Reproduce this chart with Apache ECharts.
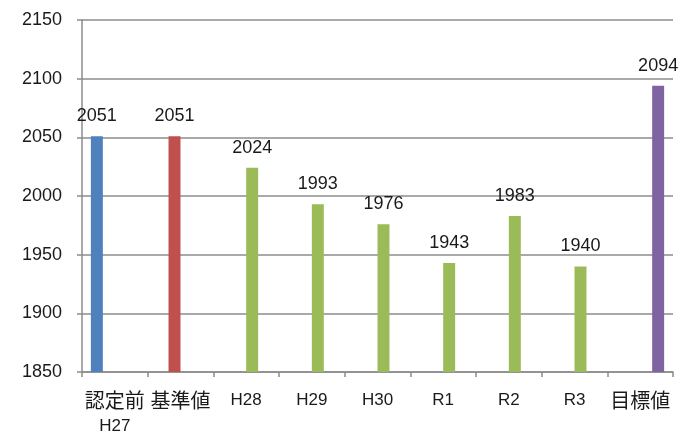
<!DOCTYPE html>
<html>
<head>
<meta charset="utf-8">
<script src="https://cdn.jsdelivr.net/npm/echarts@6/dist/echarts.min.js"></script>
<style>html,body{margin:0;padding:0;background:#fff}#c{width:679px;height:433px}</style>
</head>
<body>
<div id="c"></div>
<script>
const categories = ['認定前\nH27', '基準値', 'H28', 'H29', 'H30', 'R1', 'R2', 'R3', '目標値'];
const values = [2051, 2051, 2024, 1993, 1976, 1943, 1983, 1940, 2094];
const seriesIndexOfCategory = [0, 1, 2, 2, 2, 2, 2, 2, 3];
const seriesColors = ['#4F81BD', '#C0504D', '#9BBB59', '#8064A2'];
const yTicks = { min: 1850, max: 2150, interval: 50 };

const chart = echarts.init(document.getElementById('c'));
const latin = 'Liberation Sans, Arial, sans-serif';
const cjk = 'Noto Sans CJK JP, sans-serif';

const series = seriesColors.map((color, s) => ({
  type: 'bar',
  data: values.map((v, i) => seriesIndexOfCategory[i] === s ? v : null),
  itemStyle: { color: color },
  barGap: '0%',
  barCategoryGap: '27%',
  label: {
    show: true, position: 'top', distance: 11,
    color: '#1a1a1a', fontSize: 18, fontFamily: latin
  }
}));

function fmtLabel(val) {
  return val.split('\n').map(part => /[^\x00-\x7f]/.test(part) ? '{c|' + part + '}' : '{l|' + part + '}').join('\n');
}

chart.setOption({
  animation: false,
  backgroundColor: '#fff',
  grid: { left: 82, right: 6, top: 20, bottom: 61, containLabel: false, outerBoundsMode: 'none' },
  xAxis: {
    type: 'category', data: categories,
    axisLine: { lineStyle: { color: '#8c8c8c', width: 1.5 } },
    axisTick: { show: true, length: 5, lineStyle: { color: '#8c8c8c', width: 1.5 } },
    axisLabel: {
      margin: 15, interval: 0, color: '#1a1a1a',
      formatter: fmtLabel,
      rich: {
        c: { fontSize: 20, fontFamily: cjk, color: '#1a1a1a', lineHeight: 26 },
        l: { fontSize: 17, fontFamily: latin, color: '#1a1a1a', lineHeight: 26 }
      }
    }
  },
  yAxis: {
    type: 'value', min: yTicks.min, max: yTicks.max, interval: yTicks.interval,
    axisLine: { show: true, lineStyle: { color: '#8c8c8c', width: 1.5 } },
    axisTick: { show: true, length: 5, lineStyle: { color: '#8c8c8c', width: 1.5 } },
    splitLine: { lineStyle: { color: '#8c8c8c', width: 1.5 } },
    axisLabel: { margin: 20, color: '#1a1a1a', fontSize: 18, fontFamily: latin, formatter: v => String(v) }
  },
  series: series
});
</script>
</body>
</html>
